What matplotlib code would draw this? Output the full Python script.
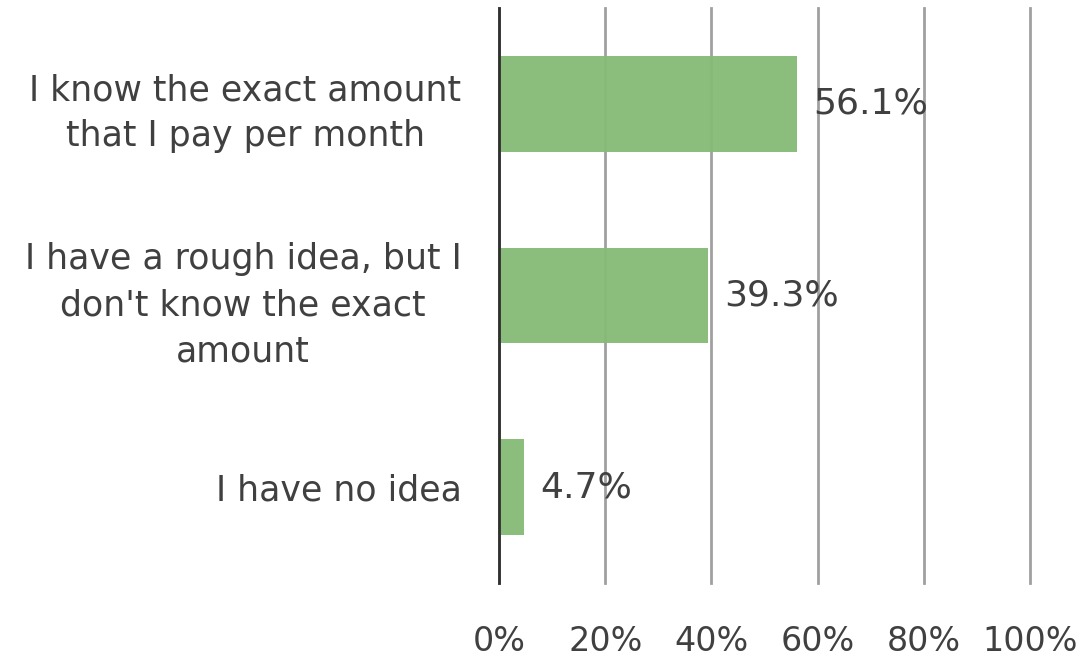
import matplotlib.pyplot as plt

# survey answers and their shares (%)
categories = [
    "I know the exact amount\nthat I pay per month",
    "I have a rough idea, but I\ndon't know the exact\namount",
    "I have no idea",
]
shares = [56.1, 39.3, 4.7]
x_ticks = [0, 20, 40, 60, 80, 100]
x_tick_labels = ["0%", "20%", "40%", "60%", "80%", "100%"]

text_color = "#404040"
bar_color = "#85BA75"

plt.rcParams["font.family"] = ["DejaVu Sans"]

fig = plt.figure(figsize=(10.86, 6.57), dpi=100)
ax = fig.add_axes([499 / 1086, 1 - 583 / 657, 531 / 1086, 575 / 657])

pos = list(range(len(categories)))
ax.barh(pos, shares, height=0.5, color=bar_color, alpha=0.95, zorder=2)

for p, v in zip(pos, shares):
    ax.annotate(f"{v}%", xy=(v, p), xytext=(12, 0), textcoords="offset points",
                ha="left", va="center", fontsize=26, color=text_color, zorder=4)

ax.set_xlim(0, 100)
ax.set_ylim(len(categories) - 0.5, -0.5)
ax.set_xticks(x_ticks)
ax.set_xticklabels(x_tick_labels, fontsize=24, color=text_color)
ax.set_yticks(pos)
ax.set_yticklabels(categories, fontsize=25, color=text_color)
for lbl in ax.get_yticklabels():
    lbl.set_multialignment("center")
    lbl.set_linespacing(1.45)

ax.tick_params(axis="x", length=0, pad=30)
ax.tick_params(axis="y", length=0, pad=27)

ax.grid(axis="x", color="#A0A0A0", linewidth=2, zorder=1)
for line in ax.get_xgridlines():
    line.set_clip_on(False)
ax.set_axisbelow(True)
for side in ["top", "right", "bottom"]:
    ax.spines[side].set_visible(False)
ax.spines["left"].set_color("#303030")
ax.spines["left"].set_linewidth(2)
ax.spines["left"].set_zorder(3)

fig.savefig("out.png", dpi=100)
